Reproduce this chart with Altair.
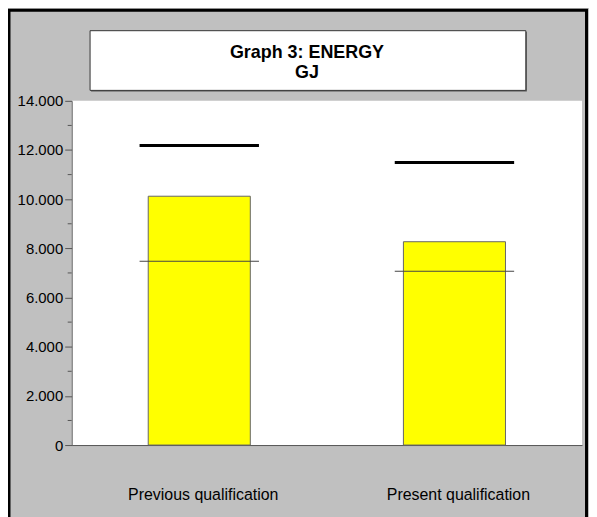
import altair as alt
import pandas as pd

categories = ["Previous qualification", "Present qualification"]
bar_values = [10120, 8270]
upper_values = [12180, 11490]
lower_values = [7480, 7070]
y_ticks = [0, 2000, 4000, 6000, 8000, 10000, 12000, 14000]
minor_ticks = [1000, 3000, 5000, 7000, 9000, 11000, 13000]
title_lines = ["Graph 3: ENERGY", "GJ"]

df = pd.DataFrame({"cat": categories, "value": bar_values,
                   "upper": upper_values, "lower": lower_values})
minor_df = pd.DataFrame({"v": minor_ticks})

FONT = "Liberation Sans"

xenc = alt.X("cat:N", sort=categories, title=None,
             scale=alt.Scale(paddingInner=0.6, paddingOuter=0.3),
             axis=alt.Axis(labelAngle=0, ticks=False, labelPadding=42,
                           labelFontSize=16, labelFont=FONT, labelColor="black",
                           labelOffset=4, domainColor="#555555"))
yscale = alt.Scale(domain=[0, 14000], nice=False)

bars = alt.Chart(df).mark_bar(color="#FFFF00", stroke="#666666", strokeWidth=1, opacity=1).encode(
    x=xenc,
    y=alt.Y("value:Q", scale=yscale, title=None,
            axis=alt.Axis(values=y_ticks, tickSize=7, labelPadding=2,
                          labelFontSize=15, labelFont=FONT, labelColor="black",
                          domainColor="#555555", tickColor="#555555", grid=False,
                          labelExpr="replace(format(datum.value, ','), ',', '.')")),
)

upper = alt.Chart(df).mark_tick(color="black", thickness=3, size=120, opacity=1).encode(
    x=alt.X("cat:N", sort=categories), y=alt.Y("upper:Q", scale=yscale))
lower = alt.Chart(df).mark_tick(color="#444444", thickness=1, size=120, opacity=1).encode(
    x=alt.X("cat:N", sort=categories), y=alt.Y("lower:Q", scale=yscale))

minor = alt.Chart(minor_df).mark_rule(color="#555555", strokeWidth=1, clip=False).encode(
    y=alt.Y("v:Q", scale=yscale), x=alt.value(-4), x2=alt.value(0))

one = alt.Data(values=[{"a": 1}])
border = alt.Chart(one).mark_rect(fill=None, stroke="black", strokeWidth=3, clip=False).encode(
    x=alt.value(-63), x2=alt.value(517.5), y=alt.value(-91), y2=alt.value(480))
title_shadow = alt.Chart(one).mark_rect(fill="#555555", clip=False).encode(
    x=alt.value(19.5), x2=alt.value(457.5), y=alt.value(-69.5), y2=alt.value(-9.5))
title_box = alt.Chart(one).mark_rect(fill="white", stroke="#333333", strokeWidth=1, clip=False).encode(
    x=alt.value(18.5), x2=alt.value(456.5), y=alt.value(-70.5), y2=alt.value(-10.5))
t1 = alt.Chart(one).mark_text(text=title_lines[0], font=FONT, fontSize=18, fontWeight="bold",
                              color="black", align="center", baseline="alphabetic").encode(
    x=alt.value(236.5), y=alt.value(-43.3))
t2 = alt.Chart(one).mark_text(text=title_lines[1], font=FONT, fontSize=18, fontWeight="bold",
                              color="black", align="center", baseline="alphabetic").encode(
    x=alt.value(236.5), y=alt.value(-22.7))

chart = alt.layer(border, title_shadow, title_box, t1, t2, bars, lower, upper, minor).properties(
    width=513, height=346,
    autosize=alt.AutoSizeParams(type="none"),
    padding={"left": 64, "top": 92, "right": 7, "bottom": 71},
    background="#C0C0C0",
).configure_view(fill="white", stroke=None)

chart.save("out.html", embed_options={"renderer": "svg", "actions": False})
